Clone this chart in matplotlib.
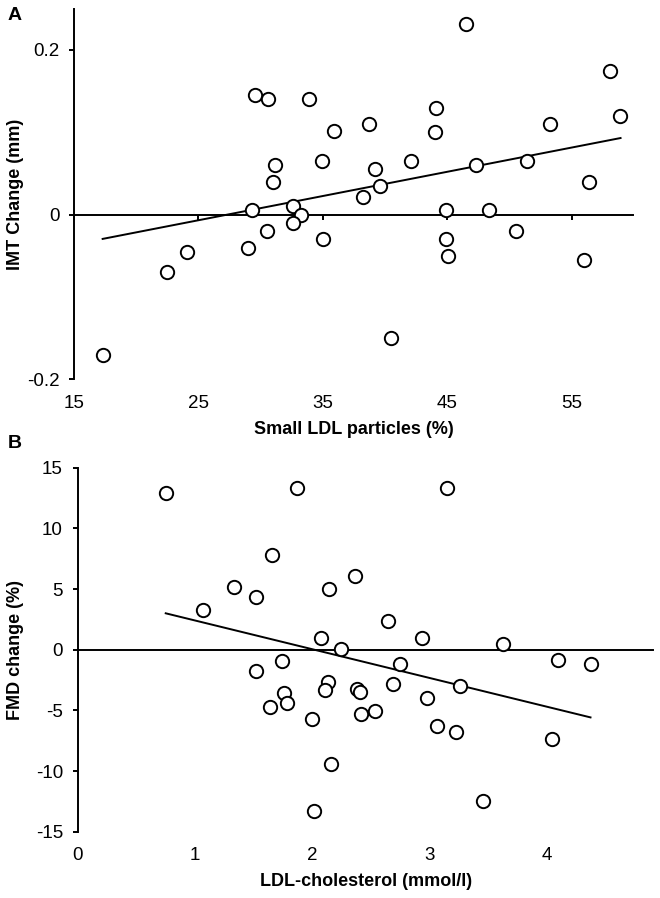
import numpy as np
import matplotlib
matplotlib.use("Agg")
import matplotlib.pyplot as plt

plt.rcParams['font.family'] = ['Liberation Sans', 'DejaVu Sans']
plt.rcParams['axes.unicode_minus'] = False

# panel A: small LDL particles (%) vs IMT change (mm)
ldl_small = [17.35, 22.44, 24.05, 29.54, 30.61, 33.9, 31.14, 30.96, 34.9, 29.27,
             32.6, 33.23, 32.56, 30.48, 29.0, 34.97, 35.88, 38.69, 44.08, 43.97,
             46.49, 42.04, 39.18, 39.58, 38.24, 47.26, 51.36, 53.23, 58.05, 58.86,
             56.39, 44.88, 48.36, 44.88, 45.07, 50.48, 55.96, 40.46]
imt_change = [-0.170, -0.070, -0.045, 0.145, 0.140, 0.140, 0.060, 0.040, 0.065, 0.005,
              0.010, 0.0, -0.010, -0.020, -0.040, -0.030, 0.101, 0.110, 0.130, 0.100,
              0.231, 0.065, 0.055, 0.035, 0.021, 0.060, 0.065, 0.110, 0.175, 0.120,
              0.040, 0.005, 0.005, -0.030, -0.050, -0.020, -0.055, -0.150]
fit_a_x = [17.3, 58.9]
fit_a_y = [-0.0295, 0.093]
xticks_a = [15, 25, 35, 45, 55]
yticks_a = [-0.2, 0, 0.2]
ytick_labels_a = ['-0.2', '0', '0.2']

# panel B: LDL-cholesterol (mmol/l) vs FMD change (%)
ldl_chol = [0.75, 1.865, 1.652, 1.334, 1.519, 1.065, 2.072, 1.738, 1.516, 1.757,
            1.78, 1.638, 1.993, 2.016, 3.143, 2.365, 2.14, 2.643, 2.935, 3.625,
            2.243, 2.745, 4.094, 4.37, 3.256, 2.686, 2.135, 2.106, 2.376, 2.405,
            2.973, 2.413, 2.532, 3.058, 3.228, 4.043, 2.16, 3.455]
fmd_change = [12.94, 13.3, 7.83, 5.14, 4.31, 3.30, 0.96, -0.96, -1.79, -3.6,
              -4.4, -4.7, -5.72, -13.27, 13.3, 6.07, 5.0, 2.39, 0.99, 0.44,
              0.06, -1.15, -0.88, -1.15, -3.0, -2.83, -2.7, -3.33, -3.24, -3.52,
              -3.96, -5.3, -5.03, -6.27, -6.82, -7.36, -9.42, -12.45]
fit_b_x = [0.75, 4.37]
fit_b_y = [3.0, -5.58]
xticks_b = [0, 1, 2, 3, 4]
yticks_b = [-15, -10, -5, 0, 5, 10, 15]

fig = plt.figure(figsize=(6.6, 8.98), dpi=100)
W, H = 660, 898

def add_axes_px(left, top, right, bottom):
    return fig.add_axes([left / W, 1 - bottom / H, (right - left) / W, (bottom - top) / H])

lw = 1.4
tick_fs = 13.5
label_fs = 13

def style(ax, xticks, yticks, ylabels, xlim, ylim, tick_len):
    ax.set_xlim(*xlim)
    ax.set_ylim(*ylim)
    for s in ['top', 'right']:
        ax.spines[s].set_visible(False)
    ax.spines['left'].set_linewidth(lw)
    ax.spines['bottom'].set_linewidth(lw)
    ax.spines['bottom'].set_position(('data', 0))
    ax.set_yticks(yticks)
    ax.set_yticklabels(ylabels, fontsize=tick_fs)
    ax.tick_params(axis='y', direction='out', length=3.6, width=lw, pad=7)
    ax.set_xticks(xticks)
    ax.tick_params(axis='x', direction='out', length=tick_len, width=lw, labelbottom=False)
    sec = ax.secondary_xaxis('bottom')
    sec.set_xticks(xticks)
    sec.set_xticklabels([str(t) for t in xticks], fontsize=tick_fs)
    sec.spines['bottom'].set_visible(False)
    sec.tick_params(axis='x', length=0, pad=11)

def scatter(ax, x, y, fx, fy):
    ax.plot(fx, fy, color='black', lw=1.4, zorder=2)
    ax.plot(x, y, 'o', ms=9.6, mfc='white', mec='black', mew=1.4,
            linestyle='none', zorder=3, clip_on=False)

# panel A
ax1 = add_axes_px(74, 8.75, 633, 379.3)
style(ax1, xticks_a, yticks_a, ytick_labels_a, (15, 59.9), (-0.2, 0.25), 3.6)
scatter(ax1, ldl_small, imt_change, fit_a_x, fit_a_y)

# panel B
ax2 = add_axes_px(77.7, 467.7, 652.7, 831.7)
style(ax2, xticks_b, yticks_b, [str(t) for t in yticks_b], (0, 4.9), (-15, 15), 0)
scatter(ax2, ldl_chol, fmd_change, fit_b_x, fit_b_y)

fig.text(354 / W, 1 - 430 / H, 'Small LDL particles (%)', ha='center', va='center',
         fontsize=label_fs, fontweight='bold')
fig.text(366 / W, 1 - 881.7 / H, 'LDL-cholesterol (mmol/l)', ha='center', va='center',
         fontsize=label_fs, fontweight='bold')
fig.text(16 / W, 1 - 194 / H, 'IMT Change (mm)', ha='center', va='center', rotation=90,
         fontsize=label_fs, fontweight='bold')
fig.text(16 / W, 1 - 650 / H, 'FMD change (%)', ha='center', va='center', rotation=90,
         fontsize=label_fs, fontweight='bold')
fig.text(15 / W, 1 - 15 / H, 'A', ha='center', va='center', fontsize=14, fontweight='bold')
fig.text(15 / W, 1 - 443 / H, 'B', ha='center', va='center', fontsize=14, fontweight='bold')

fig.savefig('out.png', dpi=100)
